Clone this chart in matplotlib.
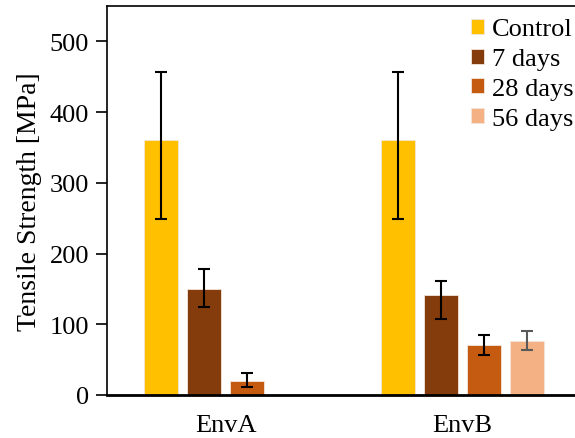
import matplotlib
matplotlib.use("Agg")
import matplotlib.pyplot as plt
import numpy as np

plt.rcParams['font.family'] = ['Liberation Serif', 'DejaVu Serif']

categories = ["EnvA", "EnvB"]
series = ["Control", "7 days", "28 days", "56 days"]
colors = ["#FFC000", "#843C0C", "#C55A11", "#F4B183"]
err_colors = ["black", "black", "black", "#595959"]

# values per series: [EnvA, EnvB] (None = no bar)
control = [361, 361]
days7 = [150, 141]
days28 = [20, 71]
days56 = [None, 76]
values = [control, days7, days28, days56]

err_hi = [[456, 456], [178, 161], [31.5, 84.5], [None, 90]]
err_lo = [[249, 249], [125, 108], [12, 56], [None, 63]]

fig = plt.figure(figsize=(5.75, 4.39), dpi=100)
ax = fig.add_axes([107/575, 1-396/439, 474/575, 389/439])

x = np.arange(len(categories))
slot = 0.182
width = 0.143
offsets = (np.arange(4) - 1.5) * slot

for i, s in enumerate(series):
    for j in range(len(categories)):
        v = values[i][j]
        if v is None:
            continue
        xp = x[j] + offsets[i]
        ax.bar(xp, v, width=width, color=colors[i], edgecolor='#f2e6dc', linewidth=0.6,
               label=s if j == 1 else None, zorder=2)
        ax.errorbar(xp, v, yerr=[[v - err_lo[i][j]], [err_hi[i][j] - v]], fmt='none',
                    ecolor=err_colors[i], elinewidth=1.5, capsize=4.3, capthick=1.5, zorder=3)

ax.set_xlim(-0.5, 1.5)
ax.set_ylim(0, 550)
ax.set_yticks([0, 100, 200, 300, 400, 500])
ax.set_xticks(x)
ax.set_xticklabels(categories)
ax.tick_params(axis='y', direction='out', length=8, width=1.2, labelsize=19, pad=5)
ax.tick_params(axis='x', length=0, labelsize=19, pad=14)
ax.set_ylabel("Tensile Strength [MPa]", fontsize=20, labelpad=5)
for sp in ['left', 'bottom', 'top']:
    ax.spines[sp].set_linewidth(1.2)
ax.spines['bottom'].set_linewidth(2)
ax.spines['right'].set_visible(False)

leg = ax.legend(loc='upper left', bbox_to_anchor=(471/575, 1-19.5/439),
                bbox_transform=fig.transFigure, frameon=False, fontsize=19,
                handlelength=0.5, handleheight=0.5, handletextpad=0.3, labelspacing=0.3,
                borderaxespad=0, borderpad=0)

fig.savefig("out.png", dpi=100)
